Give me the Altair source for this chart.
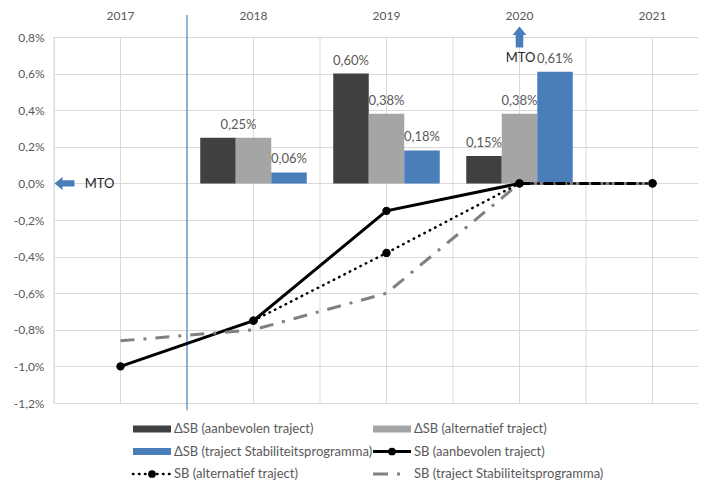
import altair as alt
import pandas as pd

# ---------------- data ----------------
years = ["2017", "2018", "2019", "2020", "2021"]

bar_names = [
    "ΔSB (aanbevolen traject)",
    "ΔSB (alternatief traject)",
    "ΔSB (traject Stabiliteitsprogramma)",
]
bar_years = ["2018", "2019", "2020"]
dsb_aanbevolen = [0.25, 0.60, 0.15]
dsb_alternatief = [0.25, 0.38, 0.38]
dsb_stab = [0.06, 0.18, 0.61]

line_names = [
    "SB (aanbevolen traject)",
    "SB (alternatief traject)",
    "SB (traject Stabiliteitsprogramma)",
]
sb_aanbevolen_years = ["2017", "2018", "2019", "2020", "2021"]
sb_aanbevolen = [-1.00, -0.75, -0.15, 0.00, 0.00]
sb_alternatief_years = ["2018", "2019", "2020", "2021"]
sb_alternatief = [-0.75, -0.38, 0.00, 0.00]
sb_stab_years = ["2017", "2018", "2019", "2020", "2021"]
sb_stab = [-0.86, -0.80, -0.60, 0.00, 0.00]

y_ticks = [0.8, 0.6, 0.4, 0.2, 0.0, -0.2, -0.4, -0.6, -0.8, -1.0, -1.2]
forecast_start = ["2018"]
mto_label = "MTO"
mto_level_year = ["2017"]
mto_level = [0.0]
mto_reached_year = ["2020"]
y_top = [0.8]

# ---------------- styles ----------------
FONT = "Lato"
TXT = "#595959"
GRID = "#d9d9d9"
bar_colors = ["#404040", "#a5a5a5", "#4a7ebb"]


def nl_pct(v):
    return f"{v:.2f}".replace(".", ",") + "%"


# bars table
rows = []
for name, vals in zip(bar_names, [dsb_aanbevolen, dsb_alternatief, dsb_stab]):
    for yr, v in zip(bar_years, vals):
        rows.append({"year": yr, "series": name, "value": v, "label": nl_pct(v), "merged": False, "hide": False})
bars_df = pd.DataFrame(rows)
# identical labels of the first two series in a year are shown once, between the bars
for yr in bar_years:
    a = bars_df[(bars_df.year == yr) & (bars_df.series == bar_names[0])]
    b = bars_df[(bars_df.year == yr) & (bars_df.series == bar_names[1])]
    if float(a.value.iloc[0]) == float(b.value.iloc[0]):
        bars_df.loc[b.index, "merged"] = True
        bars_df.loc[a.index, "hide"] = True

line_aan = pd.DataFrame({"year": sb_aanbevolen_years, "value": sb_aanbevolen})
line_alt = pd.DataFrame({"year": sb_alternatief_years, "value": sb_alternatief})
line_stab = pd.DataFrame({"year": sb_stab_years, "value": sb_stab})
years_df = pd.DataFrame({"year": years, "value": [0.0] * len(years)})
sep_df = pd.DataFrame({"year": forecast_start})
mto_left_df = pd.DataFrame({"year": mto_level_year, "value": mto_level, "label": [mto_label]})
mto_top_df = pd.DataFrame({"year": mto_reached_year, "value": y_top, "label": [mto_label]})

# ---------------- encodings ----------------
X_AXIS = alt.Axis(
    orient="top", title=None, labelAngle=0, ticks=False, domain=False, grid=False,
    labelPadding=15, labelFontSize=12, labelColor=TXT, labelFont=FONT,
)
X_SCALE = alt.Scale(domain=years, range=[0, 665], paddingInner=0, paddingOuter=0)
X = alt.X("year:N", sort=years, scale=X_SCALE, axis=X_AXIS)
Y_AXIS = alt.Axis(
    values=y_ticks, title=None, ticks=False, domain=False, grid=True,
    gridColor=GRID, gridWidth=1, labelPadding=10, labelFontSize=12,
    labelColor=TXT, labelFont=FONT, labelOverlap=False, tickCount=11,
    labelExpr="replace(replace(format(datum.value, '.1f'), '.', ','), '\u2212', '-') + '%'",
)
Y_SCALE = alt.Scale(domain=[-1.2, 0.8], nice=False, zero=False)
Y = alt.Y("value:Q", scale=Y_SCALE, axis=Y_AXIS)
XOFF = alt.XOffset(
    "series:N",
    scale=alt.Scale(domain=bar_names, paddingInner=0, paddingOuter=0.373),
)


def xband(pos):
    return alt.X("year:N", sort=years, scale=X_SCALE, axis=X_AXIS, bandPosition=pos)


layers = []
# the axes holder
layers.append(alt.Chart(years_df).mark_point(opacity=0).encode(x=X, y=Y))
# vertical grid lines (category boundaries and centers)
for pos in [0, 0.5]:
    layers.append(
        alt.Chart(years_df).mark_rule(color=GRID, strokeWidth=1).encode(
            x=xband(pos), y=alt.datum(y_ticks[0]), y2=alt.datum(y_ticks[-1])
        )
    )
# forecast separator
layers.append(
    alt.Chart(sep_df).mark_rule(color="#5b8cc6", strokeWidth=1.3).encode(
        x=xband(0), y=alt.datum(0.92), y2=alt.datum(-1.24)
    )
)
# bars
layers.append(
    alt.Chart(bars_df).mark_bar().encode(
        x=X, xOffset=XOFF, y=Y,
        color=alt.Color("series:N", scale=alt.Scale(domain=bar_names, range=bar_colors), legend=None),
    )
)
# bar labels
label_base = alt.Chart(bars_df).encode(x=X, xOffset=XOFF, y=Y, text="label:N")
layers.append(
    label_base.transform_filter("!datum.merged && !datum.hide").mark_text(
        baseline="bottom", dy=-6, fontSize=13, color=TXT, font=FONT
    )
)
layers.append(
    label_base.transform_filter("datum.merged").mark_text(
        baseline="bottom", dy=-6, dx=-15, fontSize=13, color=TXT, font=FONT
    )
)
# lines
layers.append(alt.Chart(line_aan).mark_line(color="black", strokeWidth=3).encode(x=X, y=Y))
layers.append(
    alt.Chart(line_aan).mark_point(filled=True, size=70, color="black", opacity=1).encode(x=X, y=Y)
)
layers.append(
    alt.Chart(line_stab).mark_line(color="#808080", strokeWidth=3, strokeDash=[14, 9, 3, 9]).encode(x=X, y=Y)
)
layers.append(
    alt.Chart(line_alt).mark_line(color="black", strokeWidth=2.5, strokeDash=[0.5, 5.5], strokeCap="round").encode(
        x=X, y=Y
    )
)
layers.append(
    alt.Chart(line_alt).mark_point(filled=True, size=70, color="black", opacity=1).encode(x=X, y=Y)
)
# MTO annotations
left_arrow = "M -1 0 L -0.2 -0.65 L -0.2 -0.32 L 1 -0.32 L 1 0.32 L -0.2 0.32 L -0.2 0.65 Z"
up_arrow = "M 0 -1 L 0.66 -0.2 L 0.36 -0.2 L 0.36 1 L -0.36 1 L -0.36 -0.2 L -0.66 -0.2 Z"
layers.append(
    alt.Chart(mto_left_df).mark_point(shape=left_arrow, size=400, filled=True, color="#4a7ebb",
                                      opacity=1, strokeWidth=0, xOffset=-56).encode(x=X, y=Y)
)
layers.append(
    alt.Chart(mto_left_df).mark_text(dx=-21, dy=1, fontSize=13, color="#262626", font=FONT).encode(
        x=X, y=Y, text="label:N"
    )
)
layers.append(
    alt.Chart(mto_top_df).mark_point(shape=up_arrow, size=441, filled=True, color="#4a7ebb",
                                     opacity=1, strokeWidth=0).encode(x=X, y=Y)
)
layers.append(
    alt.Chart(mto_top_df).mark_text(dy=21, dx=1, fontSize=13, color="#262626", font=FONT).encode(
        x=X, y=Y, text="label:N"
    )
)
main = alt.layer(*layers)

# ---------------- legend ----------------
legend_names = [bar_names[0], bar_names[1], bar_names[2], line_names[0], line_names[1], line_names[2]]
leg_df = pd.DataFrame({
    "name": legend_names,
    "col": [i % 2 for i in range(len(legend_names))],
    "row": [i // 2 for i in range(len(legend_names))],
})
LX = alt.X("col:O", scale=alt.Scale(type="point", domain=[0, 1], range=[79, 319], padding=0), axis=None)
LY = alt.Y("row:O", scale=alt.Scale(type="point", domain=[0, 1, 2], range=[392, 437], padding=0), axis=None)

leg_layers = []
for name, colr in zip(bar_names, bar_colors):
    leg_layers.append(
        alt.Chart(leg_df).transform_filter(alt.datum.name == name).mark_rule(
            color=colr, strokeWidth=7, x2Offset=38
        ).encode(x=LX, x2="col:O", y=LY)
    )
line_styles = [
    dict(color="black", strokeWidth=3),
    dict(color="black", strokeWidth=2.5, strokeDash=[0.5, 5.5], strokeCap="round"),
    dict(color="#808080", strokeWidth=3, strokeDash=[15, 9, 3, 30]),
]
for name, sty, marker in zip(line_names, line_styles, [True, True, False]):
    leg_layers.append(
        alt.Chart(leg_df).transform_filter(alt.datum.name == name).mark_rule(x2Offset=38, **sty).encode(
            x=LX, x2="col:O", y=LY
        )
    )
    if marker:
        leg_layers.append(
            alt.Chart(leg_df).transform_filter(alt.datum.name == name).mark_point(
                filled=True, size=60, color="black", opacity=1, xOffset=19
            ).encode(x=LX, y=LY)
        )
leg_layers.append(
    alt.Chart(leg_df).mark_text(align="left", baseline="middle", dx=41, fontSize=13, color=TXT, font=FONT).encode(
        x=LX, y=LY, text="name:N"
    )
)
legend = alt.layer(*leg_layers)

chart = (
    alt.layer(main, legend)
    .resolve_scale(x="independent", y="independent")
    .properties(
        width=644,
        height=366,
        autosize=alt.AutoSizeParams(type="none"),
        padding={"left": 46, "top": 29, "right": 0, "bottom": 79},
        background="white",
    )
    .configure_view(stroke=None)
    .configure(font=FONT)
)

chart.save("out.html", embed_options={"renderer": "svg", "actions": False})
